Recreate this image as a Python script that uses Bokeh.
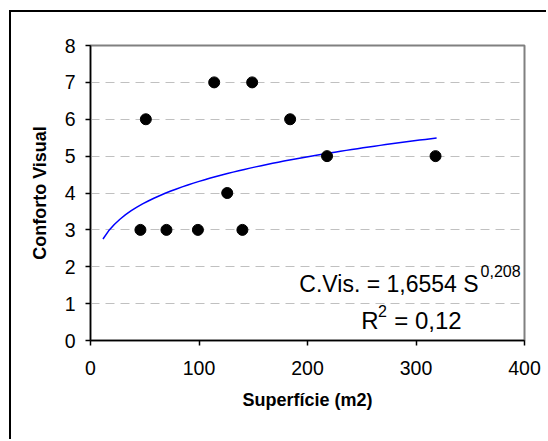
from bokeh.plotting import figure
from bokeh.models import Range1d, FixedTicker, Label, ColumnDataSource
from bokeh.embed import file_html
from bokeh.resources import INLINE
import numpy as np

# ---- data ----
superficie = [46, 51, 70, 99, 114, 126, 140, 149, 184, 218, 318]
conforto = [3, 6, 3, 3, 7, 4, 3, 7, 6, 5, 5]
x_ticks = [0, 100, 200, 300, 400]
y_ticks = [0, 1, 2, 3, 4, 5, 6, 7, 8]
# power trendline reported in the chart: C.Vis. = 1,6554 S^0,208
trend_a = 1.6554
trend_b = 0.208
trend_x_start = 11.5
trend_x_end = 319

FONT = "Liberation Sans"

# canvas starts at x=11, y=12 (9/10 px margin + 2 px chart border)
p = figure(width=537, height=429, x_range=Range1d(0, 400), y_range=Range1d(0, 8),
           output_backend="svg", toolbar_location=None,
           min_border_left=79, min_border_right=24, min_border_top=33, min_border_bottom=101)
p.styles = {"margin-left": "9px", "margin-top": "10px",
            "border-left": "2px solid black", "border-top": "2px solid black"}
p.background_fill_color = "white"
p.border_fill_color = "white"
p.outline_line_color = "#808080"
p.outline_line_width = 2

p.xgrid.visible = False
p.ygrid.grid_line_color = "#c0c0c0"
p.ygrid.grid_line_dash = "9 6"
p.ygrid.grid_line_width = 1
p.ygrid.ticker = FixedTicker(ticks=y_ticks)

for ax in (p.xaxis[0], p.yaxis[0]):
    ax.axis_line_color = "black"
    ax.axis_line_width = 1.5
    ax.major_tick_line_color = "black"
    ax.major_tick_line_width = 1.5
    ax.major_tick_in = 0
    ax.major_tick_out = 5
    ax.minor_tick_in = 0
    ax.minor_tick_out = 0
    ax.major_label_text_font = FONT
    ax.major_label_text_font_size = "19.5px"
    ax.major_label_text_color = "black"
    ax.axis_label_text_font = FONT
    ax.axis_label_text_font_style = "bold"
    ax.axis_label_text_font_size = "18px"
    ax.axis_label_text_color = "black"
    ax.axis_label_standoff = 12

p.xaxis.ticker = FixedTicker(ticks=x_ticks)
p.yaxis.ticker = FixedTicker(ticks=y_ticks)
p.xaxis.major_label_standoff = 15
p.yaxis.major_label_standoff = 10
p.xaxis.axis_label = "Superfície (m2)"
p.yaxis.axis_label = "Conforto Visual"

# trendline
tx = np.linspace(trend_x_start, trend_x_end, 60)
ty = trend_a * tx ** trend_b
p.line(tx, ty, line_color="#0000ff", line_width=1.5)

src = ColumnDataSource(dict(x=superficie, y=conforto))
p.scatter("x", "y", source=src, size=11, fill_color="black", line_color="black")

# equation labels
def lab(x, y, t, size):
    p.add_layout(Label(x=x, y=y, text=t, text_font=FONT, text_font_size=size,
                       text_color="black", text_baseline="alphabetic"))

lab(192.5, 1.545, "C.Vis. = 1,6554 S", "23px")
lab(359.5, 1.886, "0,208", "16px")
lab(249.5, 0.55, "R", "24px")
lab(265, 0.79, "2", "16px")
lab(280, 0.55, "= 0,12", "24px")

open("out.html", "w").write(file_html(p, INLINE))
